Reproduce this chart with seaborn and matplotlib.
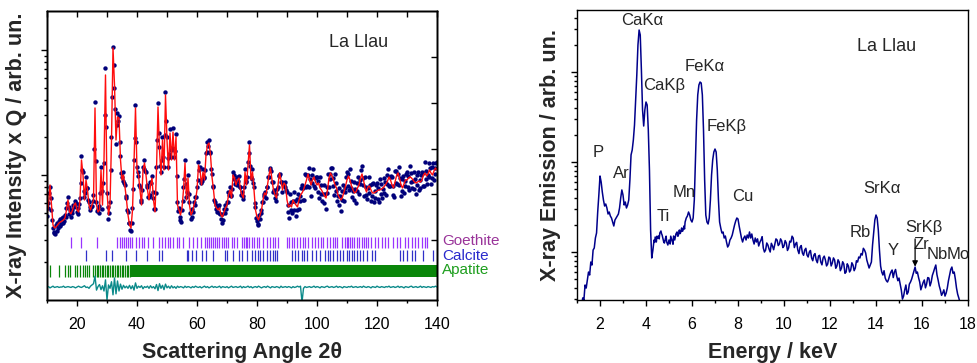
import numpy as np
import pandas as pd
import matplotlib
matplotlib.use("Agg")
import matplotlib.pyplot as plt
import seaborn as sns
from matplotlib.ticker import FixedLocator, NullFormatter, MultipleLocator

# ---------------- X-ray diffraction (Rietveld) data ----------------
# observed intensity x Q, 0.25 deg steps from 10 to 140
i_obs = [
    470, 540, 600, 720, 800, 650, 520, 440,
    380, 345, 350, 340, 395, 355, 410, 375,
    430, 390, 445, 405, 455, 415, 465, 425,
    475, 465, 545, 600, 665, 555, 490, 525,
    465, 525, 500, 575, 555, 615, 575, 595,
    505, 545, 485, 585, 655, 870, 1420, 1090,
    1060, 750, 665, 715, 960, 790, 790, 630,
    605, 525, 550, 555, 560, 625, 695, 1600,
    3850, 1300, 605, 515, 535, 495, 565, 715,
    1160, 750, 535, 855, 1240, 3000, 7200, 2400,
    715, 555, 445, 500, 605, 1100, 2000, 4200,
    10600, 7600, 5000, 3400, 1780, 2500, 3150, 2700,
    2950, 1840, 1410, 1040, 955, 895, 1060, 865,
    835, 685, 655, 525, 505, 415, 415, 365,
    355, 415, 545, 775, 1310, 1990, 3650, 1840,
    1160, 990, 1060, 835, 795, 635, 605, 755,
    1160, 1110, 1310, 1070, 1050, 835, 795, 665,
    665, 695, 875, 855, 990, 735, 655, 535,
    535, 715, 1160, 1890, 3750, 2180, 1670, 1190,
    1060, 1310, 2020, 1390, 1160, 2080, 4600, 2680,
    2020, 1370, 1160, 1470, 2320, 1590, 1390, 1640,
    2370, 1610, 1390, 1550, 2120, 990, 605, 515,
    545, 465, 435, 420, 525, 615, 805, 935,
    1310, 845, 665, 735, 1000, 705, 605, 495,
    445, 465, 535, 510, 605, 575, 665, 665,
    795, 915, 1270, 1090, 1150, 915, 865, 895,
    1110, 945, 960, 1090, 1510, 1520, 1830, 1690,
    1890, 1540, 1510, 1120, 1010, 815, 795, 635,
    605, 530, 575, 505, 555, 500, 575, 485,
    445, 415, 485, 435, 535, 495, 575, 535,
    605, 605, 725, 695, 795, 675, 695, 775,
    1060, 935, 1000, 845, 880, 835, 960, 895,
    990, 805, 795, 695, 725, 645, 685, 795,
    1110, 895, 880, 955, 1270, 1500, 1850, 1190,
    960, 935, 1110, 855, 795, 595, 555, 455,
    425, 405, 395, 475, 445, 525, 495, 605,
    605, 705, 685, 735, 660, 795, 795, 960,
    955, 1130, 1090, 1070, 875, 875, 725, 755,
    660, 705, 625, 775, 795, 975, 995, 1015,
    875, 875, 725, 845, 825, 885, 795, 765,
    732, 509, 577, 452, 702, 520, 611, 497,
    618, 725, 525, 621, 472, 644, 522, 710,
    536, 674, 623, 790, 833, 635, 789, 636,
    1015, 801, 1003, 810, 999, 1138, 803, 923,
    682, 993, 857, 1126, 819, 939, 791, 958,
    965, 728, 898, 659, 960, 711, 835, 620,
    704, 824, 598, 707, 537, 804, 713, 1016,
    804, 1011, 934, 1131, 1139, 814, 948, 697,
    1015, 744, 866, 620, 678, 794, 576, 682,
    517, 740, 627, 838, 621, 788, 735, 967,
    1058, 814, 1021, 757, 1113, 794, 899, 661,
    744, 871, 632, 769, 599, 865, 740, 971,
    707, 905, 851, 1100, 1182, 829, 948, 678,
    960, 698, 804, 643, 786, 955, 719, 834,
    622, 841, 675, 862, 610, 740, 658, 827,
    864, 647, 789, 607, 926, 705, 850, 655,
    771, 946, 719, 882, 695, 993, 841, 1115,
    819, 957, 821, 976, 965, 696, 818, 666,
    1072, 855, 1080, 848, 1017, 1169, 832, 940,
    682, 922, 740, 980, 720, 897, 821, 1021,
    1058, 799, 984, 764, 1176, 879, 1041, 780,
    894, 1056, 774, 923, 708, 993, 826, 1064,
    761, 905, 791, 1002, 1058, 821, 1040, 815,
    1266, 929, 1080, 840, 999, 1247, 964, 1131,
    851, 1162, 940, 1246, 915, 1129, 1024, 1251,
    1271,
]

# calculated profile, 0.5 deg steps from 10 to 140
i_calc = [
    479, 575, 832, 575, 398, 377, 384, 398,
    413, 421, 429, 437, 453, 525, 631, 506,
    488, 525, 575, 597, 525, 506, 631, 1318,
    1000, 631, 912, 759, 575, 525, 575, 631,
    3436, 575, 506, 525, 1096, 575, 1318, 6310,
    759, 479, 575, 1905, 10375, 5248, 1905, 2911,
    2858, 1318, 912, 1000, 802, 631, 479, 398,
    377, 525, 1247, 3436, 1096, 1000, 759, 575,
    1096, 1247, 1000, 759, 631, 832, 946, 631,
    506, 1096, 3499, 1585, 1000, 1905, 1096, 4365,
    1905, 1096, 2168, 1318, 2208, 1318, 2014, 575,
    525, 479, 545, 759, 1247, 631, 946, 575,
    479, 506, 575, 631, 759, 1202, 1096, 832,
    1057, 912, 1445, 1738, 1803, 1445, 964, 759,
    575, 545, 525, 545, 479, 461, 506, 545,
    575, 692, 759, 655, 1000, 946, 832, 912,
    946, 759, 692, 655, 1057, 832, 1202, 1738,
    912, 1057, 759, 525, 461, 437, 479, 525,
    631, 718, 692, 832, 1000, 1138, 912, 759,
    692, 655, 832, 1038, 912, 759, 863, 832,
    631, 555, 575, 555, 631, 597, 575, 555,
    631, 692, 718, 759, 832, 912, 1019, 912,
    832, 912, 964, 879, 832, 863, 787, 759,
    718, 679, 655, 759, 946, 1038, 982, 912,
    832, 787, 692, 655, 631, 667, 731, 817,
    912, 982, 912, 817, 759, 718, 731, 787,
    832, 946, 1019, 912, 787, 731, 802, 817,
    759, 718, 718, 731, 745, 759, 759, 773,
    787, 817, 847, 895, 964, 912, 832, 787,
    879, 982, 1038, 946, 832, 787, 847, 912,
    912, 946, 964, 946, 912, 879, 863, 879,
    895, 879, 912, 1000, 1038, 982, 1019, 1096,
    1038, 1000, 1076, 1138,
    1096,
]

# difference curve (offset below the patterns), 0.5 deg steps
i_diff = [
    127, 128, 125, 127, 129, 126, 127, 128,
    126, 127, 127, 129, 126, 127, 128, 127,
    126, 128, 127, 125, 127, 129, 127, 126,
    128, 130, 126, 127, 124, 129, 132, 135,
    155, 120, 128, 133, 121, 130, 118, 145,
    100, 132, 124, 140, 110, 150, 112, 142,
    118, 134, 122, 131, 125, 129, 124, 131,
    123, 130, 120, 137, 124, 129, 126, 130,
    123, 128, 126, 129, 124, 130, 125, 128,
    123, 133, 119, 135, 124, 131, 121, 134,
    125, 129, 124, 130, 125, 128, 124, 129,
    126, 128, 127, 125, 129, 126, 128, 127,
    125, 128, 126, 129, 127, 126, 128, 125,
    127, 129, 126, 128, 125, 127, 129, 126,
    128, 126, 127, 129, 125, 128, 127, 126,
    128, 125, 127, 129, 126, 127, 128, 126,
    127, 129, 125, 128, 126, 127, 129, 126,
    128, 125, 127, 128, 126, 129, 127, 125,
    127, 128, 126, 129, 127, 125, 128, 127,
    126, 128, 127, 125, 129, 126, 127, 128,
    126, 128, 127, 125, 128, 126, 127, 129,
    127, 129, 96, 124, 128, 126, 127, 128,
    126, 127, 129, 126, 128, 127, 125, 128,
    127, 126, 128, 129, 126, 127, 128, 126,
    127, 129, 126, 128, 127, 125, 128, 127,
    126, 128, 127, 129, 126, 127, 128, 126,
    127, 128, 126, 129, 127, 126, 128, 127,
    125, 128, 127, 126, 129, 127, 126, 128,
    127, 126, 128, 127, 129, 126, 127, 128,
    126, 127, 129, 126, 128, 127, 125, 128,
    127, 126, 128, 129, 126, 127, 128, 126,
    127, 129, 126, 128, 127, 126, 128, 127,
    126, 128, 127, 129,
    127,
]

# Bragg reflection positions (2theta) of each phase
goethite_pos = [
    17.9, 21.3, 26.6, 33.2, 34.3, 35.0, 35.7, 36.3, 36.9, 37.7, 38.4, 39.7,
    40.8, 41.6, 42.3, 43.8, 45.4, 47.4, 48.4, 49.3, 50.2, 51.0, 51.9, 53.2,
    54.0, 55.2, 57.4, 58.8, 59.9, 61.3, 62.7, 63.2, 64.0, 64.6, 65.2, 66.0,
    66.6, 67.4, 68.2, 69.0, 69.7, 70.4, 71.6, 72.3, 73.2, 74.9, 75.7, 76.2,
    76.8, 77.4, 78.2, 79.0, 79.9, 80.8, 81.9, 83.2, 84.3, 85.2, 86.0, 87.1,
    89.9, 90.8, 91.6, 92.3, 93.2, 94.3, 95.2, 96.0, 97.1, 98.2, 99.3, 100.4,
    101.2, 102.1, 103.2, 104.3, 105.2, 106.0, 106.8, 108.2, 109.3, 109.9,
    110.4, 111.0, 111.6, 112.3, 113.2, 114.1, 114.9, 115.7, 116.3, 117.1,
    117.9, 119.3, 120.4, 121.6, 122.7, 123.8, 125.4, 126.6, 127.7, 129.3,
    130.4, 131.6, 132.7, 133.8, 134.9, 136.0, 136.8,
]
calcite_pos = [
    23.0, 29.7, 31.6, 36.3, 39.7, 43.2, 47.4, 48.4, 56.6, 57.1, 58.2, 59.7,
    61.6, 63.0, 65.4, 69.3, 69.9, 72.1, 74.1, 74.9, 76.6, 78.2, 79.3, 80.4,
    81.0, 82.1, 83.2, 84.3, 85.2, 86.1, 86.8, 91.8, 92.7, 93.8, 94.9, 95.7,
    96.6, 98.2, 99.7, 101.0, 102.7, 103.8, 104.3, 105.4, 106.8, 107.7,
    108.8, 109.9, 110.8, 111.6, 112.4, 113.2, 114.3, 115.4, 116.6, 118.2,
    119.3, 127.7, 128.8, 129.9, 131.6, 132.7, 135.4, 138.8,
]
# apatite: separated low-angle reflections, then the crowded high-angle set
apatite_low = [
    11.0, 14.1, 16.0, 17.1, 17.7, 19.3, 20.1, 21.0, 22.1, 22.7, 23.4, 24.0,
    25.4, 26.0, 26.6, 27.1, 27.7, 28.2, 28.8, 29.3, 29.9, 30.4, 31.0, 31.6,
    32.1, 32.7, 33.2, 33.8, 34.3, 34.9, 35.4, 36.0, 36.6, 37.1, 37.6,
]
apatite_high = [
    38.0, 38.5, 39.1, 39.6, 40.2, 40.7, 41.3, 41.8, 42.4, 42.9, 43.5, 44.0,
    44.6, 45.1, 45.7, 46.2, 46.8, 47.3, 47.9, 48.4, 49.0, 49.5, 50.1, 50.6,
    51.2, 51.7, 52.3, 52.8, 53.4, 53.9, 54.5, 55.0, 55.6, 56.1, 56.7, 57.2,
    57.8, 58.3, 58.9, 59.4, 60.0, 60.5, 61.1, 61.6, 62.2, 62.7, 63.3, 63.8,
    64.4, 64.9, 65.5, 66.0, 66.6, 67.1, 67.7, 68.2, 68.8, 69.3, 69.9, 70.4,
    71.0, 71.5, 72.1, 72.6, 73.2, 73.7, 74.3, 74.8, 75.4, 75.9, 76.5, 77.0,
    77.6, 78.1, 78.7, 79.2, 79.8, 80.3, 80.9, 81.4, 82.0, 82.5, 83.1, 83.6,
    84.2, 84.7, 85.3, 85.8, 86.4, 86.9, 87.5, 88.0, 88.6, 89.1, 89.7, 90.2,
    90.8, 91.3, 91.9, 92.4, 93.0, 93.5, 94.1, 94.6, 95.2, 95.7, 96.3, 96.8,
    97.4, 97.9, 98.5, 99.0, 99.6, 100.1, 100.7, 101.2, 101.8, 102.3, 102.9,
    103.4, 104.0, 104.5, 105.1, 105.6, 106.2, 106.7, 107.3, 107.8, 108.4,
    108.9, 109.5, 110.0, 110.6, 111.1, 111.7, 112.2, 112.8, 113.3, 113.9,
    114.4, 115.0, 115.5, 116.1, 116.6, 117.2, 117.7, 118.3, 118.8, 119.4,
    119.9, 120.5, 121.0, 121.6, 122.1, 122.7, 123.2, 123.8, 124.3, 124.9,
    125.4, 126.0, 126.5, 127.1, 127.6, 128.2, 128.7, 129.3, 129.8, 130.4,
    130.9, 131.5, 132.0, 132.6, 133.1, 133.7, 134.2, 134.8, 135.3, 135.9,
    136.4, 137.0, 137.5, 138.1, 138.6, 139.2, 139.7,
]

# ---------------- X-ray fluorescence spectrum ----------------
energy_kev = [
    1.20, 1.25, 1.30, 1.35, 1.40, 1.45, 1.50, 1.55, 1.60, 1.65, 1.70, 1.75,
    1.80, 1.85, 1.90, 1.95, 2.00, 2.05, 2.10, 2.15, 2.20, 2.25, 2.30, 2.35,
    2.40, 2.45, 2.50, 2.55, 2.60, 2.65, 2.70, 2.75, 2.80, 2.85, 2.90, 2.95,
    3.00, 3.05, 3.10, 3.15, 3.20, 3.25, 3.30, 3.35, 3.40, 3.45, 3.50, 3.55,
    3.60, 3.65, 3.70, 3.75, 3.80, 3.85, 3.90, 3.95, 4.00, 4.05, 4.10, 4.15,
    4.20, 4.25, 4.30, 4.35, 4.40, 4.45, 4.50, 4.55, 4.60, 4.65, 4.70, 4.75,
    4.80, 4.85, 4.90, 4.95, 5.00, 5.05, 5.10, 5.15, 5.20, 5.25, 5.30, 5.35,
    5.40, 5.45, 5.50, 5.55, 5.60, 5.65, 5.70, 5.75, 5.80, 5.85, 5.90, 5.95,
    6.00, 6.05, 6.10, 6.15, 6.20, 6.25, 6.30, 6.35, 6.40, 6.45, 6.50, 6.55,
    6.60, 6.65, 6.70, 6.75, 6.80, 6.85, 6.90, 6.95, 7.00, 7.05, 7.10, 7.15,
    7.20, 7.25, 7.30, 7.35, 7.40, 7.45, 7.50, 7.55, 7.60, 7.65, 7.70, 7.75,
    7.80, 7.85, 7.90, 7.95, 8.00, 8.05, 8.10, 8.15, 8.20, 8.25, 8.30, 8.35,
    8.40, 8.45, 8.50, 8.55, 8.60, 8.65, 8.70, 8.75,
    8.8, 8.9, 9.0, 9.1, 9.2, 9.3, 9.4, 9.5, 9.6, 9.7, 9.8, 9.9,
    10.0, 10.1, 10.2, 10.3, 10.4, 10.5, 10.6, 10.7, 10.8, 10.9, 11.0, 11.1,
    11.2, 11.3, 11.4, 11.5, 11.6, 11.7, 11.8, 11.9, 12.0, 12.1, 12.2, 12.3,
    12.4, 12.5, 12.6, 12.7, 12.8, 12.9, 13.0, 13.1, 13.2, 13.3, 13.4, 13.5,
    13.55, 13.6, 13.7, 13.8, 13.85, 13.9, 13.95, 14.0, 14.05, 14.1, 14.15,
    14.2, 14.25, 14.3, 14.4, 14.5, 14.6, 14.7, 14.8, 14.9, 15.0, 15.1, 15.2,
    15.3, 15.4, 15.5, 15.6, 15.7, 15.8, 15.9, 16.0, 16.1, 16.2, 16.3, 16.4,
    16.5, 16.6, 16.7, 16.8, 16.9, 17.0, 17.1, 17.2, 17.3, 17.4, 17.5, 17.6,
    17.65, 17.7,
]
emission_counts = [
    25.8, 30.9, 29.3, 43.0, 39.8, 48.9, 59.9, 55.5, 77.4, 71.7, 105.2, 110.8,
    143.1, 162.8, 278.3, 430.3, 699.0, 599.5, 464.2, 378.5, 324.5, 341.5, 308.4, 264.4,
    278.3, 251.2, 238.7, 215.4, 194.6, 226.8, 238.7, 251.2, 264.4, 308.4, 398.1, 489.4,
    430.3, 333.0, 359.4, 308.4, 333.0, 378.5, 630.9, 1200, 1359, 1758, 2577, 4885,
    9261, 19950, 29290, 25770, 10525, 3793, 2512, 3793, 4642, 4300, 2276, 812.8,
    175.6, 85.8, 105.2, 136.0, 146.8, 129.2, 143.1, 150.6, 162.8, 171.3, 154.6, 136.0,
    125.9, 143.1, 129.2, 119.6, 136.0, 122.7, 143.1, 129.2, 150.6, 136.0, 158.6, 167.0,
    150.6, 175.6, 162.8, 184.9, 171.3, 194.6, 215.4, 238.7, 251.2, 278.3, 257.7, 226.8,
    215.4, 238.7, 378.5, 1055, 2929, 5561, 7171, 7743, 7543, 5561, 2276, 630.9,
    257.7, 215.4, 204.8, 238.7, 378.5, 717.1, 1055, 1292, 1394, 1292, 812.8, 378.5,
    215.4, 184.9, 162.8, 167.0, 143.1, 150.6, 129.2, 113.6, 119.6, 136.0, 143.1, 154.6,
    175.6, 199.5, 221.1, 238.7, 232.6, 194.6, 167.0, 143.1, 129.2, 143.1, 150.6, 136.0,
    154.6, 143.1, 167.0, 143.1, 158.6, 136.0, 122.7, 143.1,
    129.2, 116.6, 136.0, 110.8, 105.2, 119.6, 100.0, 116.6, 122.7, 136.0, 122.7, 132.5,
    116.6, 125.9, 110.8, 129.2, 143.1, 122.7, 105.2, 113.6, 97.5, 105.2, 92.6, 100.0,
    85.8, 92.6, 81.5, 90.3, 77.4, 85.8, 81.5, 73.6, 85.8, 75.5, 81.5, 69.9,
    77.4, 66.4, 73.6, 59.9, 69.9, 63.1, 71.7, 66.4, 77.4, 85.8, 92.6, 105.2,
    97.5, 81.5, 66.4, 77.4, 119.6, 167.0, 226.8, 257.7, 238.7, 175.6, 105.2,
    69.9, 59.9, 55.5, 51.4, 46.4, 55.5, 63.1, 59.9, 54.1, 51.4, 37.8, 32.4,
    43.0, 35.9, 46.4, 55.5, 68.1, 59.9, 46.4, 41.9, 48.9, 44.1, 51.4, 46.4,
    59.9, 71.7, 48.9, 37.8, 35.0, 32.4, 39.8, 55.5, 68.1, 59.9, 39.8, 30.9,
    27.8, 25.8,
]
# extra channels between the ones above, carrying the counting noise
energy_fine = [
    4.375, 4.475, 4.575, 4.675, 4.775, 4.875, 4.975, 5.075, 5.175, 5.275,
    5.375, 5.475, 5.575, 5.675,
    8.85, 8.95, 9.05, 9.15, 9.25, 9.35, 9.45, 9.55, 9.65, 9.75, 9.85, 9.95,
    10.05, 10.15, 10.25, 10.35, 10.45, 10.55, 10.65, 10.75, 10.85, 10.95,
    11.05, 11.15, 11.25, 11.35, 11.45, 11.55, 11.65, 11.75, 11.85, 11.95,
    12.05, 12.15, 12.25, 12.35, 12.45, 12.55, 12.65, 12.75, 12.85, 12.95,
    13.05, 13.15, 13.25, 13.35, 13.45,
    14.35, 14.45, 14.55, 14.65, 14.75, 14.85, 14.95, 15.05, 15.15, 15.25,
    15.35, 15.45, 15.55, 15.65, 15.75, 15.85, 15.95, 16.05, 16.15, 16.25,
    16.35, 16.45, 16.55, 16.65, 16.75, 16.85, 16.95, 17.05, 17.15, 17.25,
    17.35, 17.45, 17.55,
]
counts_fine = [
    128, 150, 140, 160, 128, 150, 128, 150, 122, 146,
    150, 160, 170, 180,
    140, 128, 148, 100, 126, 108, 125, 106, 140, 118, 140, 112,
    134, 104, 132, 150, 112, 128, 96, 118, 92, 110,
    88, 104, 80, 96, 76, 92, 72, 90, 70, 88,
    70, 86, 66, 82, 62, 78, 58, 74, 60, 76,
    62, 80, 88, 96, 110,
    62, 48, 50, 60, 52, 64, 48, 44, 30, 38,
    34, 44, 50, 62, 58, 52, 38, 46, 40, 52,
    42, 55, 66, 56, 42, 33, 38, 35, 48, 64,
    58, 50, 34,
]

# line labels of the spectrum: (text, energy, counts)
xrf_labels = [
    ("P", 1.91, 1292), ("Ar", 2.91, 736), ("CaKα", 3.83, 37800),
    ("CaKβ", 4.78, 7170), ("FeKα", 6.57, 11660), ("FeKβ", 7.52, 2450),
    ("Ti", 4.74, 245), ("Mn", 5.65, 453), ("Cu", 8.22, 409),
    ("SrKα", 14.26, 513), ("Rb", 13.30, 163), ("Y", 14.74, 103),
    ("SrKβ", 16.09, 185), ("Zr", 15.96, 120), ("Nb", 16.65, 95),
    ("Mo", 17.57, 95),
]

phase_names = ["Goethite", "Calcite", "Apatite"]
phase_text_colors = ["#993399", "#2a2acc", "#1e9e1e"]

two_theta_obs = np.arange(10, 140.001, 0.25)
two_theta_calc = np.arange(10, 140.001, 0.5)

obs_df = pd.DataFrame({"tt": two_theta_obs, "I": i_obs})
calc_df = pd.DataFrame({"tt": two_theta_calc, "I": i_calc, "D": i_diff})
xrf_df = pd.DataFrame({"E": energy_kev + energy_fine,
                       "C": emission_counts + counts_fine})

sns.set_theme(style="ticks")
plt.rcParams["font.family"] = ["Liberation Sans", "DejaVu Sans"]
plt.rcParams["axes.linewidth"] = 1.0
plt.rcParams["axes.edgecolor"] = "black"
plt.rcParams["xtick.color"] = "black"
plt.rcParams["ytick.color"] = "black"

fig = plt.figure(figsize=(9.78, 3.63), dpi=100)
ax1 = fig.add_axes([47 / 978, 63 / 363, 390 / 978, 289 / 363])
ax2 = fig.add_axes([577 / 978, 63 / 363, 391 / 978, 290 / 363])

# ---------------- left panel: diffraction pattern ----------------
sns.scatterplot(data=obs_df, x="tt", y="I", s=10, color="#00007a",
                linewidth=0, ax=ax1, zorder=2)
sns.lineplot(data=calc_df, x="tt", y="I", color="#ff0d0d", lw=1.0,
             ax=ax1, zorder=3)
sns.lineplot(data=calc_df, x="tt", y="D", color="#0b8a8a", lw=1.0,
             ax=ax1, zorder=3)
ax1.vlines(goethite_pos, 261, 319, color="#9933ff", lw=0.9, zorder=2)
ax1.vlines(calcite_pos, 205, 251, color="#3030c8", lw=0.9, zorder=2)
ax1.vlines(apatite_low, 153, 191, color="#0a860a", lw=0.9, zorder=2)
ax1.vlines(apatite_high, 153, 191, color="#0a860a", lw=1.45, zorder=2)

ax1.set_yscale("log")
ax1.set_xlim(10, 140)
ax1.set_ylim(100, 20500)
ax1.set_xticks(range(20, 141, 20))
ax1.xaxis.set_minor_locator(MultipleLocator(10))
ax1.yaxis.set_major_locator(FixedLocator([1000, 10000]))
ax1.yaxis.set_minor_locator(FixedLocator(
    [m * 100 for m in range(2, 10)] + [m * 1000 for m in range(2, 10)]))
ax1.yaxis.set_major_formatter(NullFormatter())
ax1.yaxis.set_minor_formatter(NullFormatter())
ax1.tick_params(axis="x", which="major", direction="out", length=4.5,
                width=1, labelsize=11.5, pad=8)
ax1.tick_params(axis="x", which="minor", direction="out", length=2.5, width=1)
ax1.tick_params(axis="y", which="major", direction="out", length=4.5, width=1)
ax1.tick_params(axis="y", which="minor", direction="out", length=2.5, width=1)

ax1.text(113.7, 11400, "La Llau", fontsize=13, ha="center", va="center")
for name, yv, col in zip(phase_names, [296, 225, 174], phase_text_colors):
    ax1.text(141.7, yv, name, color=col, fontsize=11, ha="left",
             va="center", clip_on=False)

ax1.set_xlabel("Scattering Angle 2θ", fontsize=15.5, fontweight="bold")
ax1.set_ylabel("X-ray Intensity x Q / arb. un.", fontsize=15.5,
               fontweight="bold")
ax1.xaxis.label.set_va("center")
ax1.yaxis.label.set_va("center")
ax1.xaxis.set_label_coords(0.5, -0.18)
ax1.yaxis.set_label_coords(-0.077, 0.5)

# inward ticks on the top and right frame
ax_top = ax1.twiny()
ax_top.set_xlim(10, 140)
ax_top.set_xticks(range(10, 141, 10))
ax_top.tick_params(axis="x", direction="in", length=4.5, width=1,
                   labeltop=False, top=True)
ax_right = ax1.twinx()
ax_right.set_ylim(0, 1)
ax_right.set_yticks([0.208, 0.367, 0.522, 0.682, 0.841])
ax_right.tick_params(axis="y", direction="in", length=4.5, width=1,
                     labelright=False, right=True)

# ---------------- right panel: fluorescence spectrum ----------------
sns.lineplot(data=xrf_df, x="E", y="C", color="#00008b", lw=1.1, ax=ax2)
ax2.set_yscale("log")
ax2.set_xlim(1, 18)
ax2.set_ylim(29.3, 48870)
ax2.set_xticks(range(2, 19, 2))
ax2.xaxis.set_minor_locator(MultipleLocator(1))
ax2.yaxis.set_major_locator(FixedLocator([100, 1000, 10000]))
ax2.yaxis.set_minor_locator(FixedLocator(
    [m * 10 for m in range(3, 10)] + [m * 100 for m in range(2, 10)]
    + [m * 1000 for m in range(2, 10)] + [m * 10000 for m in range(2, 5)]))
ax2.yaxis.set_major_formatter(NullFormatter())
ax2.yaxis.set_minor_formatter(NullFormatter())
ax2.tick_params(axis="x", which="major", direction="out", length=4.5,
                width=1, labelsize=11.5, pad=8)
ax2.tick_params(axis="x", which="minor", direction="out", length=2.5, width=1)
ax2.tick_params(axis="y", which="major", direction="out", length=4.5, width=1)
ax2.tick_params(axis="y", which="minor", direction="out", length=2.5, width=1)

for txt, ex, cy in xrf_labels:
    ax2.text(ex, cy, txt, fontsize=12, ha="center", va="center")
ax2.annotate("", xy=(15.70, 64), xytext=(15.70, 150),
             arrowprops=dict(arrowstyle="-|>", color="black", lw=0.9,
                             mutation_scale=8))
ax2.text(14.48, 19450, "La Llau", fontsize=13, ha="center", va="center")

ax2.set_xlabel("Energy / keV", fontsize=15.5, fontweight="bold")
ax2.set_ylabel("X-ray Emission / arb. un.", fontsize=15.5, fontweight="bold")
ax2.xaxis.label.set_va("center")
ax2.yaxis.label.set_va("center")
ax2.xaxis.set_label_coords(0.5, -0.18)
ax2.yaxis.set_label_coords(-0.069, 0.5)

fig.savefig("out.png", dpi=100)
